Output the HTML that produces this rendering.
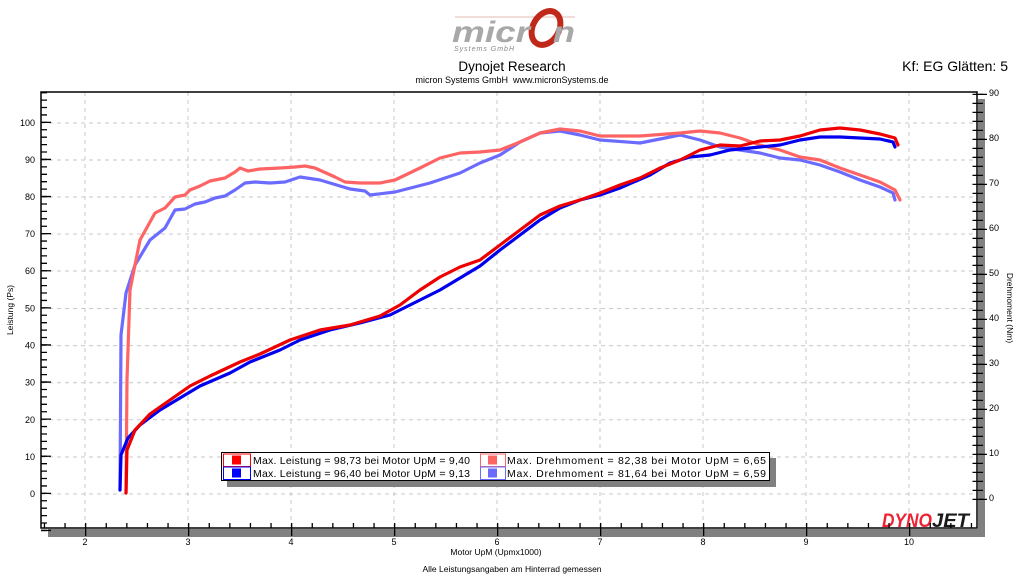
<!DOCTYPE html>
<html><head><meta charset="utf-8"><style>
html,body{margin:0;padding:0;background:#fff;width:1024px;height:576px;overflow:hidden;font-family:"Liberation Sans","DejaVu Sans",sans-serif}
</style></head><body>
<svg width="1024" height="576" viewBox="0 0 1024 576" xmlns="http://www.w3.org/2000/svg" font-family="Liberation Sans, DejaVu Sans, sans-serif">
<rect width="1024" height="576" fill="#fff"/>
<!-- logo -->
<line x1="455" y1="17" x2="575" y2="17" stroke="#e0b8b0" stroke-width="1"/>
<ellipse cx="546" cy="28" rx="13" ry="18" fill="none" stroke="#c0281a" stroke-width="6" transform="rotate(30 546 28)"/>
<text x="452" y="42" font-size="30" font-style="italic" font-weight="bold" fill="#a8a8a8" textLength="78" lengthAdjust="spacingAndGlyphs">micr</text>
<text x="553" y="42" font-size="30" font-style="italic" font-weight="bold" fill="#a8a8a8" textLength="22" lengthAdjust="spacingAndGlyphs">n</text>
<text x="454" y="51" font-size="7" font-style="italic" fill="#8a8a8a" textLength="60">Systems GmbH</text>
<text x="512" y="71" font-size="13.5" text-anchor="middle" fill="#000">Dynojet Research</text>
<text x="512" y="83" font-size="9" text-anchor="middle" fill="#000">micron Systems GmbH&#160;&#160;www.micronSystems.de</text>
<text x="1008" y="71" font-size="14" text-anchor="end" fill="#000">Kf: EG Glätten: 5</text>
<!-- shadows -->
<rect x="48" y="529" width="937" height="8" fill="#808080"/>
<rect x="978" y="99" width="7" height="438" fill="#808080"/>
<rect x="41" y="92" width="936" height="436" fill="#fff"/>
<!-- grid -->
<g stroke="#c8c8c8" stroke-width="1" stroke-dasharray="4 4">
<path d="M85 92V528M188 92V528M291 92V528M394 92V528M497 92V528M600 92V528M703 92V528M806 92V528M909 92V528"/>
<path d="M41 123H977M41 160H977M41 197H977M41 234H977M41 271H977M41 308.5H977M41 345.6H977M41 382.7H977M41 419.8H977M41 457H977M41 494H977"/>
</g>
<!-- DYNOJET logo -->
<text x="882" y="527" font-size="19" font-weight="bold" font-style="italic" fill="#ee2233" textLength="50" lengthAdjust="spacingAndGlyphs">DYNO</text>
<text x="932" y="527" font-size="19" font-weight="bold" font-style="italic" fill="#1a1a1a" textLength="37" lengthAdjust="spacingAndGlyphs">JET</text>
<!-- curves -->
<g fill="none" stroke-width="3.2" stroke-linejoin="round" stroke-linecap="round">
<polyline stroke="#6b6bff" points="120,490 121,335 126,293 135,265 150,240 165,228 175,210 185,209 195,204 205,202 215,198 225,196 235,190 245,183 255,182 270,183 285,182 300,177 320,180 340,186 350,189 365,191 370,195 395,192 430,183 460,173 480,163 500,155 520,142 540,133 560,131 580,135 600,140 640,143 680,135 700,140 720,147 740,150 760,153 780,158 800,160 820,165 840,172 860,180 880,187 893,193 895,200"/>
<polyline stroke="#ff6464" points="126,493 127,380 130,290 140,240 155,213 165,208 175,197 185,195 190,190 200,186 210,181 225,178 235,172 240,168 248,171 260,169 280,168 295,167 305,166 315,168 335,177 345,182 360,183 380,183 395,180 420,168 440,158 460,153 480,152 500,150 520,142 540,133 560,129 580,131 600,136 640,136 680,133 700,131 720,133 740,138 760,145 780,150 800,157 820,160 840,168 860,175 880,182 895,190 900,200"/>
<polyline stroke="#0000ee" points="120,490 121,455 128,438 140,425 160,410 180,398 200,386 230,373 250,362 280,350 300,340 330,330 360,323 390,315 410,305 440,290 460,278 480,266 500,250 520,235 540,220 560,208 580,200 600,195 620,188 650,175 670,163 690,157 710,155 730,150 760,147 780,145 800,140 820,137 840,137 860,138 880,139 893,142 895,147"/>
<polyline stroke="#ee0000" points="126,493 127,450 135,430 150,414 170,400 190,386 210,376 240,362 260,354 290,340 320,330 350,325 380,316 400,305 420,290 440,277 460,267 480,260 500,245 520,230 540,215 560,206 580,200 600,193 620,185 640,178 660,168 680,160 700,150 720,145 740,146 760,141 780,140 800,136 820,130 840,128 860,130 880,134 895,138 898,145"/>
</g>
<!-- axes -->
<rect x="41" y="92" width="936" height="436" fill="none" stroke="#000" stroke-width="1.5"/>
<g stroke="#000" stroke-width="1.3">
<line x1="44" y1="531.1" x2="44" y2="92" stroke-width="6" stroke-dasharray="1.3 6.12"/>
<line x1="46" y1="531.1" x2="46" y2="92" stroke-width="10" stroke-dasharray="1.3 35.8" stroke-dashoffset="-37.1" />
<line x1="43.8" y1="525.5" x2="977" y2="525.5" stroke-width="5" stroke-dasharray="1.3 19.3"/>
<line x1="85" y1="532" x2="977" y2="532" stroke-width="8" stroke-dasharray="1.3 101.7"/>
<line x1="975" y1="500" x2="975" y2="92" stroke-width="5" stroke-dasharray="1.3 7.7"/>
<line x1="980" y1="500" x2="980" y2="92" stroke-width="6" stroke-dasharray="1.3 7.7"/>
<line x1="983" y1="500" x2="983" y2="92" stroke-width="8" stroke-dasharray="1.3 43.7"/>
</g>
<!-- left labels -->
<g font-size="9" fill="#000" text-anchor="end">
<text x="35" y="126">100</text><text x="35" y="163">90</text><text x="35" y="200">80</text><text x="35" y="237">70</text><text x="35" y="274">60</text><text x="35" y="311.5">50</text><text x="35" y="348.6">40</text><text x="35" y="385.7">30</text><text x="35" y="422.8">20</text><text x="35" y="460">10</text><text x="35" y="497">0</text>
</g>
<g font-size="9" fill="#000">
<text x="989" y="96">90</text><text x="989" y="141">80</text><text x="989" y="186">70</text><text x="989" y="231">60</text><text x="989" y="276">50</text><text x="989" y="321">40</text><text x="989" y="366">30</text><text x="989" y="411">20</text><text x="989" y="456">10</text><text x="989" y="501">0</text>
</g>
<g font-size="9" fill="#000" text-anchor="middle">
<text x="85" y="545">2</text><text x="188" y="545">3</text><text x="291" y="545">4</text><text x="394" y="545">5</text><text x="497" y="545">6</text><text x="600" y="545">7</text><text x="703" y="545">8</text><text x="806" y="545">9</text><text x="909" y="545">10</text>
<text x="496" y="555" font-size="8.5">Motor UpM (Upmx1000)</text>
<text x="512" y="572" font-size="8.5">Alle Leistungsangaben am Hinterrad gemessen</text>
</g>
<text transform="translate(13 310) rotate(-90)" font-size="8.5" text-anchor="middle">Leistung (Ps)</text>
<text transform="translate(1007 308) rotate(90)" font-size="8.5" text-anchor="middle">Drehmoment (Nm)</text>
<!-- legend -->
<rect x="227" y="458" width="549" height="29" fill="#808080"/>
<rect x="221.5" y="452.5" width="548" height="28" fill="#fff" stroke="#000" stroke-width="1"/>
<rect x="223.5" y="454" width="27" height="12.5" fill="#fff" stroke="#ff0000"/><rect x="232" y="455.5" width="9" height="9" fill="#ff0000"/>
<rect x="223.5" y="467" width="27" height="12.5" fill="#fff" stroke="#0000ff"/><rect x="232" y="468.5" width="9" height="9" fill="#0000ff"/>
<rect x="480.5" y="454" width="25" height="12.5" fill="#fff" stroke="#ff6464"/><rect x="488" y="455.5" width="9" height="9" fill="#ff6464"/>
<rect x="480.5" y="467" width="25" height="12.5" fill="#fff" stroke="#6b6bff"/><rect x="488" y="468.5" width="9" height="9" fill="#6b6bff"/>
<g font-size="10.5" fill="#000">
<text x="253" y="464" textLength="217">Max. Leistung = 98,73 bei Motor UpM = 9,40</text>
<text x="253" y="477" textLength="217">Max. Leistung = 96,40 bei Motor UpM = 9,13</text>
<text x="507" y="464" textLength="259">Max. Drehmoment = 82,38 bei Motor UpM = 6,65</text>
<text x="507" y="477" textLength="259">Max. Drehmoment = 81,64 bei Motor UpM = 6,59</text>
</g>
</svg>
</body></html>
